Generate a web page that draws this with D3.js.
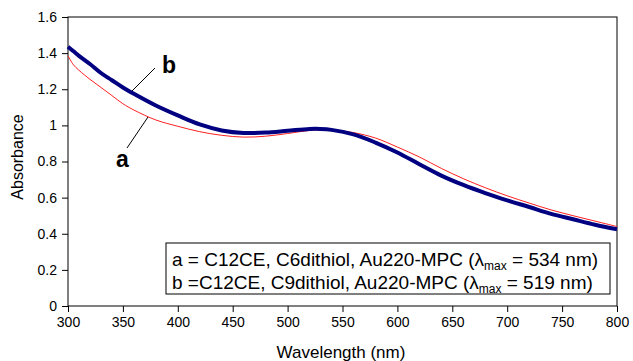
<!DOCTYPE html>
<html>
<head>
<meta charset="utf-8">
<script src="https://cdn.jsdelivr.net/npm/d3@7"></script>
<style>
  body { margin: 0; background: #fff; }
  svg { display: block; font-family: "Liberation Sans", Arial, sans-serif; }
</style>
</head>
<body>
<div id="chart"></div>
<script>
// wavelengths (nm) and absorbance
var wavelengths = [300, 305, 310, 320, 330, 340, 350, 360, 380, 400, 420, 440, 460, 480, 500, 520, 530, 540, 560, 580, 600, 620, 640, 660, 680, 700, 720, 740, 760, 780, 800];
var seriesA = [1.385, 1.335, 1.305, 1.255, 1.21, 1.165, 1.12, 1.085, 1.03, 0.995, 0.965, 0.945, 0.935, 0.94, 0.955, 0.972, 0.975, 0.975, 0.96, 0.93, 0.88, 0.825, 0.762, 0.705, 0.655, 0.61, 0.57, 0.532, 0.5, 0.47, 0.44];
var seriesB = [1.435, 1.41, 1.385, 1.34, 1.29, 1.25, 1.21, 1.175, 1.11, 1.055, 1.005, 0.972, 0.958, 0.96, 0.97, 0.98, 0.98, 0.975, 0.95, 0.905, 0.85, 0.785, 0.722, 0.67, 0.625, 0.585, 0.548, 0.51, 0.48, 0.45, 0.425];
var xTicks = [300, 350, 400, 450, 500, 550, 600, 650, 700, 750, 800];
var yTicks = [0, 0.2, 0.4, 0.6, 0.8, 1, 1.2, 1.4, 1.6];
var legendLines = [
    { pre: "a = C12CE, C6dithiol, Au220-MPC (", value: "534" },
    { pre: "b =C12CE, C9dithiol, Au220-MPC (", value: "519" }
];

var width = 633,
    height = 361,
    margin = { left: 68, right: 16, top: 17, bottom: 55 };

var svg = d3.select("#chart").append("svg")
    .attr("width", width)
    .attr("height", height);

var x = d3.scaleLinear().domain([300, 800]).range([margin.left, width - margin.right]);
var y = d3.scaleLinear().domain([0, 1.6]).range([height - margin.bottom, margin.top]);

// axes
svg.append("g")
    .attr("transform", "translate(0," + (height - margin.bottom) + ")")
    .call(d3.axisBottom(x).tickValues(xTicks).tickSize(6).tickPadding(5).tickFormat(d3.format("d")))
    .call(function (g) { g.select(".domain").remove(); })
    .selectAll("text").style("font-size", "14px").attr("fill", "#000");

svg.append("g")
    .attr("transform", "translate(" + margin.left + ",0)")
    .call(d3.axisLeft(y).tickValues(yTicks).tickSize(6).tickPadding(5).tickFormat(d3.format("~g")))
    .call(function (g) { g.select(".domain").remove(); })
    .selectAll("text").style("font-size", "14px").attr("fill", "#000");

svg.selectAll(".tick line").attr("stroke", "#000");

// frame
svg.append("rect")
    .attr("x", x(300))
    .attr("y", y(1.6))
    .attr("width", x(800) - x(300))
    .attr("height", y(0) - y(1.6))
    .attr("fill", "none")
    .attr("stroke", "#000")
    .attr("stroke-width", 1);

// axis titles
svg.append("text")
    .attr("x", 341)
    .attr("y", 358)
    .attr("text-anchor", "middle")
    .style("font-size", "17px")
    .text("Wavelength (nm)");

svg.append("text")
    .attr("transform", "translate(23,157) rotate(-90)")
    .attr("text-anchor", "middle")
    .style("font-size", "16px")
    .text("Absorbance");

// curves
var line = function (vals) {
    return d3.line()
        .x(function (d, i) { return x(wavelengths[i]); })
        .y(function (d) { return y(d); })
        .curve(d3.curveCatmullRom)(vals);
};

svg.append("path")
    .attr("d", line(seriesA))
    .attr("fill", "none")
    .attr("stroke", "#ff2020")
    .attr("stroke-width", 1);

svg.append("path")
    .attr("d", line(seriesB))
    .attr("fill", "none")
    .attr("stroke", "#000080")
    .attr("stroke-width", 4);

// curve labels with leader lines
svg.append("line").attr("x1", 155).attr("y1", 68).attr("x2", 132).attr("y2", 91)
    .attr("stroke", "#000").attr("stroke-width", 1);
svg.append("line").attr("x1", 148).attr("y1", 117).attr("x2", 127).attr("y2", 148)
    .attr("stroke", "#000").attr("stroke-width", 1);

svg.append("text").attr("x", 162).attr("y", 73)
    .style("font-size", "23px").style("font-weight", "bold").text("b");
svg.append("text").attr("x", 116).attr("y", 167)
    .style("font-size", "23px").style("font-weight", "bold").text("a");

// legend box
var legend = svg.append("g");
legend.append("rect")
    .attr("x", 166).attr("y", 243)
    .attr("width", 444).attr("height", 51)
    .attr("fill", "#fff").attr("stroke", "#000").attr("stroke-width", 1);

legendLines.forEach(function (d, i) {
    var t = legend.append("text")
        .attr("x", 172)
        .attr("y", 266 + i * 23)
        .style("font-size", "19px");
    t.append("tspan").text(d.pre + "\u03bb");
    t.append("tspan").attr("dy", 4).style("font-size", "12px").text("max");
    t.append("tspan").attr("dy", -4).text(" = " + d.value + " nm)");
});
</script>
</body>
</html>
